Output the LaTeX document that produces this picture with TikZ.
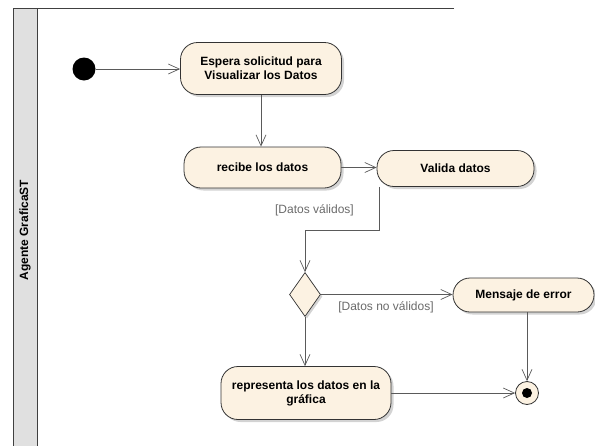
\documentclass[tikz,border=0pt]{standalone}
\usepackage{fontspec}
\setmainfont{Liberation Sans}
\usetikzlibrary{arrows.meta,shadows,calc,shapes.geometric}
\definecolor{actfill}{HTML}{FCF2E2}
\definecolor{lanegray}{HTML}{E0E0E0}
\definecolor{edgegray}{HTML}{5A5A5A}
\definecolor{guardgray}{HTML}{6A6A6A}
\begin{document}
\begin{tikzpicture}[x=1pt,y=-1pt,
  action/.style={draw=black!80, line width=0.8pt, fill=actfill,
    rounded corners=17pt, align=center, inner sep=0pt,
    font=\bfseries\fontsize{12}{14}\selectfont,
    drop shadow={shadow xshift=2.5pt, shadow yshift=-2.5pt, opacity=0.35}},
  decision/.style={diamond, draw=black!80, line width=0.7pt, fill=actfill,
    inner sep=0pt, minimum width=31pt, minimum height=44pt,
    drop shadow={shadow xshift=2pt, shadow yshift=-2pt, opacity=0.35}},
  flow/.style={draw=edgegray, line width=0.7pt,
    -{Straight Barb[length=11pt,width=10pt,line width=0.7pt]}},
  guard/.style={text=guardgray, font=\fontsize{12}{14}\selectfont, inner sep=0pt},
  lanetext/.style={font=\bfseries\fontsize{12}{14}\selectfont, rotate=90}
]
\useasboundingbox (0,0) rectangle (595,445);

% swimlane frame and header
\fill[lanegray] (13,8) rectangle (37,446);
\draw[black!75, line width=0.9pt] (454,8) -- (13,8) -- (13,446);
\draw[black!75, line width=0.9pt] (37,8) -- (37,446);
\node[lanetext] (lane) at (25,230) {Agente GraficaST};

% initial and final states
\node[circle, fill=black, minimum size=23pt, inner sep=0pt] (start) at (84,69) {};
\node[circle, draw=black!80, line width=0.8pt, fill=actfill, minimum size=23pt, inner sep=0pt] (final) at (527,393) {};
\node[circle, fill=black, minimum size=10pt, inner sep=0pt] (finaldot) at (final.center) {};

% actions
\node[action, minimum width=161pt, minimum height=52pt] (espera) at (261,68.5)
  {Espera solicitud para\\Visualizar los Datos};
\node[action, minimum width=157pt, minimum height=41pt] (recibe) at (262.5,167.5)
  {recibe los datos};
\node[action, minimum width=157pt, minimum height=36pt] (valida) at (455.5,168.5)
  {Valida datos};
\node[decision] (dec) at (305,294.5) {};
\node[action, minimum width=141pt, minimum height=34pt] (msg) at (523.5,295)
  {Mensaje de error};
\node[action, minimum width=170pt, minimum height=53pt] (rep) at (306,393)
  {representa los datos en la\\gráfica};

% transitions
\draw[flow] (start.east) -- (start.east -| espera.west);
\draw[flow] (espera.south) -- (espera.south |- recibe.north);
\draw[flow] (recibe.east) -- (recibe.east -| valida.west);
\draw[flow] ($(valida.south west)+(3,0)$) -- ++(0,43) -| (dec.north);
\draw[flow] (dec.east) -- (dec.east -| msg.west);
\draw[flow] (dec.south) -- (dec.south |- rep.north);
\draw[flow] (final |- msg.south) -- (final.north);
\draw[flow] (rep.east) -- (final.west);

% guards
\node[guard] (gvalid) at (314.5,210) {[Datos válidos]};
\node[guard] (gnovalid) at (386,307.5) {[Datos no válidos]};
\end{tikzpicture}
\end{document}
